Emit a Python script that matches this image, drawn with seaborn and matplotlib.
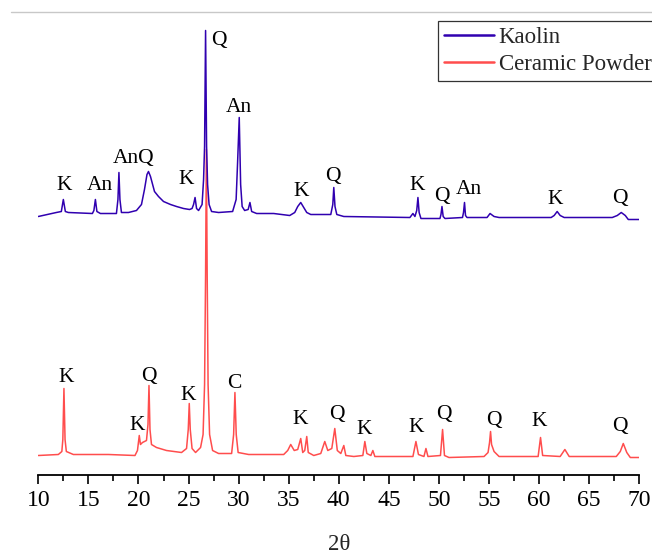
import matplotlib
matplotlib.use("Agg")
import matplotlib.pyplot as plt
from matplotlib.lines import Line2D
from matplotlib.ticker import MultipleLocator
import pandas as pd
import seaborn as sns

# XRD pattern of kaolin (intensity in a.u., drawn shifted up by kaolin_offset)
two_theta_kaolin = [
    10.0, 11.8, 12.3, 12.5, 12.7, 13.0, 15.4, 15.55, 15.7, 15.85, 16.2, 17.8,
    17.95, 18.05, 18.15, 18.3, 19.0, 19.8, 20.3, 20.6, 20.85, 21.0, 21.2, 21.6,
    22.0, 22.5, 23.2, 23.8, 24.5, 25.1, 25.35, 25.5, 25.65, 25.8, 26.0, 26.35,
    26.5, 26.6, 26.7, 26.8, 26.9, 27.05, 27.3, 28.0, 29.4, 29.75, 29.9, 30.06,
    30.2, 30.35, 30.6, 30.95, 31.13, 31.3, 31.8, 33.5, 35.1, 35.6, 35.9, 36.2,
    36.5, 36.8, 37.2, 39.2, 39.4, 39.5, 39.62, 39.8, 40.5, 47.1, 47.4, 47.6,
    47.78, 47.9, 48.02, 48.2, 50.1, 50.2, 50.3, 50.42, 50.6, 52.35, 52.45, 52.55,
    52.65, 52.8, 54.8, 55.1, 55.5, 56.0, 61.2, 61.5, 61.8, 62.1, 62.5, 67.3,
    67.8, 68.2, 68.6, 68.9, 70.0,
]
intensity_kaolin = [
    18, 22, 23, 35, 23, 22, 21, 24, 35, 23, 21, 21,
    35, 62, 35, 22, 22, 24, 30, 45, 60, 63, 58, 43,
    38, 33, 30, 28, 26, 25, 26, 30, 37, 26, 24, 30,
    55, 88, 204, 88, 50, 30, 23, 22, 23, 35, 73, 117,
    50, 28, 24, 25, 32, 23, 21, 21, 19, 22, 28, 32,
    27, 22, 20, 20, 30, 47, 28, 20, 18, 17, 21, 18,
    24, 37, 22, 16, 16, 20, 28, 18, 16, 17, 22, 32,
    19, 17, 17, 21, 18, 17, 17, 19, 23, 19, 17, 17,
    19, 22, 19, 15, 15,
]
kaolin_offset = 240

# XRD pattern of ceramic powder (intensity in a.u.)
two_theta_ceramic = [
    10.0, 12.0, 12.35, 12.45, 12.56, 12.67, 12.8, 13.5, 17.0, 19.65, 19.9, 20.08,
    20.2, 20.4, 20.6, 20.8, 20.95, 21.05, 21.15, 21.3, 21.8, 22.8, 24.3, 24.8,
    24.97, 25.07, 25.17, 25.35, 25.7, 26.2, 26.45, 26.6, 26.7, 26.78, 26.86, 26.95,
    27.1, 27.4, 28.0, 29.3, 29.5, 29.63, 29.76, 29.95, 31.0, 34.5, 34.9, 35.2,
    35.55, 35.9, 36.2, 36.4, 36.6, 36.8, 36.95, 37.5, 38.2, 38.6, 38.9, 39.3,
    39.6, 39.85, 40.2, 40.5, 40.7, 41.5, 42.4, 42.6, 42.8, 43.2, 43.4, 43.6,
    47.4, 47.7, 47.95, 48.5, 48.7, 48.9, 50.15, 50.36, 50.55, 51.0, 54.5, 54.9,
    55.05, 55.15, 55.25, 55.5, 56.0, 59.9, 60.14, 60.35, 62.1, 62.57, 63.0, 67.7,
    68.1, 68.4, 68.75, 69.1, 70.0,
]
intensity_ceramic = [
    19, 20, 23, 35, 86, 35, 23, 20, 20, 19, 24, 39,
    30, 32, 33, 34, 50, 89, 45, 30, 27, 24, 22, 26,
    45, 71, 45, 26, 22, 27, 40, 90, 200, 325, 200, 90,
    40, 24, 21, 21, 40, 82, 40, 22, 20, 20, 24, 30,
    24, 25, 36, 22, 24, 38, 22, 19, 21, 33, 24, 26,
    46, 24, 21, 29, 19, 18, 19, 33, 21, 19, 24, 18,
    18, 33, 20, 18, 26, 18, 19, 45, 19, 17, 18, 22,
    32, 43, 30, 23, 18, 18, 37, 19, 18, 25, 18, 18,
    23, 31, 22, 17, 17,
]

# Phase labels (K: kaolinite, Q: quartz, An: anatase, C: calcite)
kaolin_peak_labels = ["K", "An", "AnQ", "K", "Q", "An", "K", "Q", "K", "Q", "An", "K", "Q"]
kaolin_label_x = [12.6, 16.15, 19.48, 24.75, 28.05, 30.03, 36.25, 39.44, 47.87, 50.29, 53.0, 61.6, 68.1]
kaolin_label_y = [45, 44, 71, 51, 190, 123, 38, 53, 45, 33, 40, 31, 32]

ceramic_peak_labels = ["K", "K", "Q", "K", "C", "K", "Q", "K", "K", "Q", "Q", "K", "Q"]
ceramic_label_x = [12.83, 19.85, 21.07, 24.97, 29.55, 36.17, 39.78, 42.5, 47.7, 50.5, 55.5, 60.0, 68.1]
ceramic_label_y = [93, 45, 93, 74, 87, 50, 55, 41, 42, 55, 50, 49, 43]

series_names = ["Kaolin", "Ceramic Powder"]
series_colors = {"Kaolin": "#3000b0", "Ceramic Powder": "#ff4d4d"}

sns.set_theme(style="white")
plt.rcParams["font.family"] = ["Liberation Serif", "DejaVu Serif"]

df = pd.concat([
    pd.DataFrame({"2θ": two_theta_ceramic, "I": intensity_ceramic, "sample": "Ceramic Powder"}),
    pd.DataFrame({"2θ": two_theta_kaolin,
                  "I": [v + kaolin_offset for v in intensity_kaolin], "sample": "Kaolin"}),
], ignore_index=True)

fig = plt.figure(figsize=(6.52, 5.54), dpi=100)
ax = fig.add_axes([38.3 / 652, (554 - 474.5) / 554, (639.3 - 38.3) / 652, (474.5 - 12) / 554])

sns.lineplot(data=df, x="2θ", y="I", hue="sample",
             hue_order=["Ceramic Powder", "Kaolin"], palette=series_colors,
             estimator=None, sort=False, linewidth=1.1, legend=False, ax=ax)

for txt, x, y in zip(kaolin_peak_labels, kaolin_label_x, kaolin_label_y):
    ax.text(x, y + kaolin_offset, txt, ha="center", va="baseline", fontsize=15.5, color="black")
for txt, x, y in zip(ceramic_peak_labels, ceramic_label_x, ceramic_label_y):
    ax.text(x, y, txt, ha="center", va="baseline", fontsize=15.5, color="black")

ax.set_xlim(10, 70)
ax.set_ylim(0, 462.5)
ax.xaxis.set_major_locator(MultipleLocator(5))
ax.xaxis.set_minor_locator(MultipleLocator(2.5))
ax.set_yticks([])
ax.set_ylabel("")
ax.set_xlabel("2θ", fontsize=16.5, labelpad=16)
for side in ["left", "top", "right"]:
    ax.spines[side].set_visible(False)
ax.spines["bottom"].set_color("black")
ax.spines["bottom"].set_linewidth(1.3)
ax.tick_params(axis="x", which="major", direction="out", length=6.5, width=1.2,
               colors="black", labelsize=17, pad=5, bottom=True)
ax.tick_params(axis="x", which="minor", direction="out", length=4.3, width=1.2,
               colors="black", bottom=True)
ax.set_facecolor("white")

handles = [Line2D([], [], color=series_colors[n], linewidth=1.8) for n in series_names]
leg = ax.legend(handles, series_names, loc="upper left",
                bbox_to_anchor=(438 / 652, (554 - 21) / 554), bbox_transform=fig.transFigure,
                fontsize=16.5, frameon=True, fancybox=False, framealpha=1,
                edgecolor="#333333", handlelength=2.2, handletextpad=0.2,
                borderpad=0.25, labelspacing=0.28, borderaxespad=0)
leg.get_frame().set_linewidth(0.9)

# thin rule across the top of the figure
fig.add_artist(Line2D([11 / 652, 1.0], [(554 - 12.3) / 554] * 2,
                      transform=fig.transFigure, color="#c8c8c8", linewidth=1.0))

fig.savefig("out.png", dpi=100, facecolor="white")
